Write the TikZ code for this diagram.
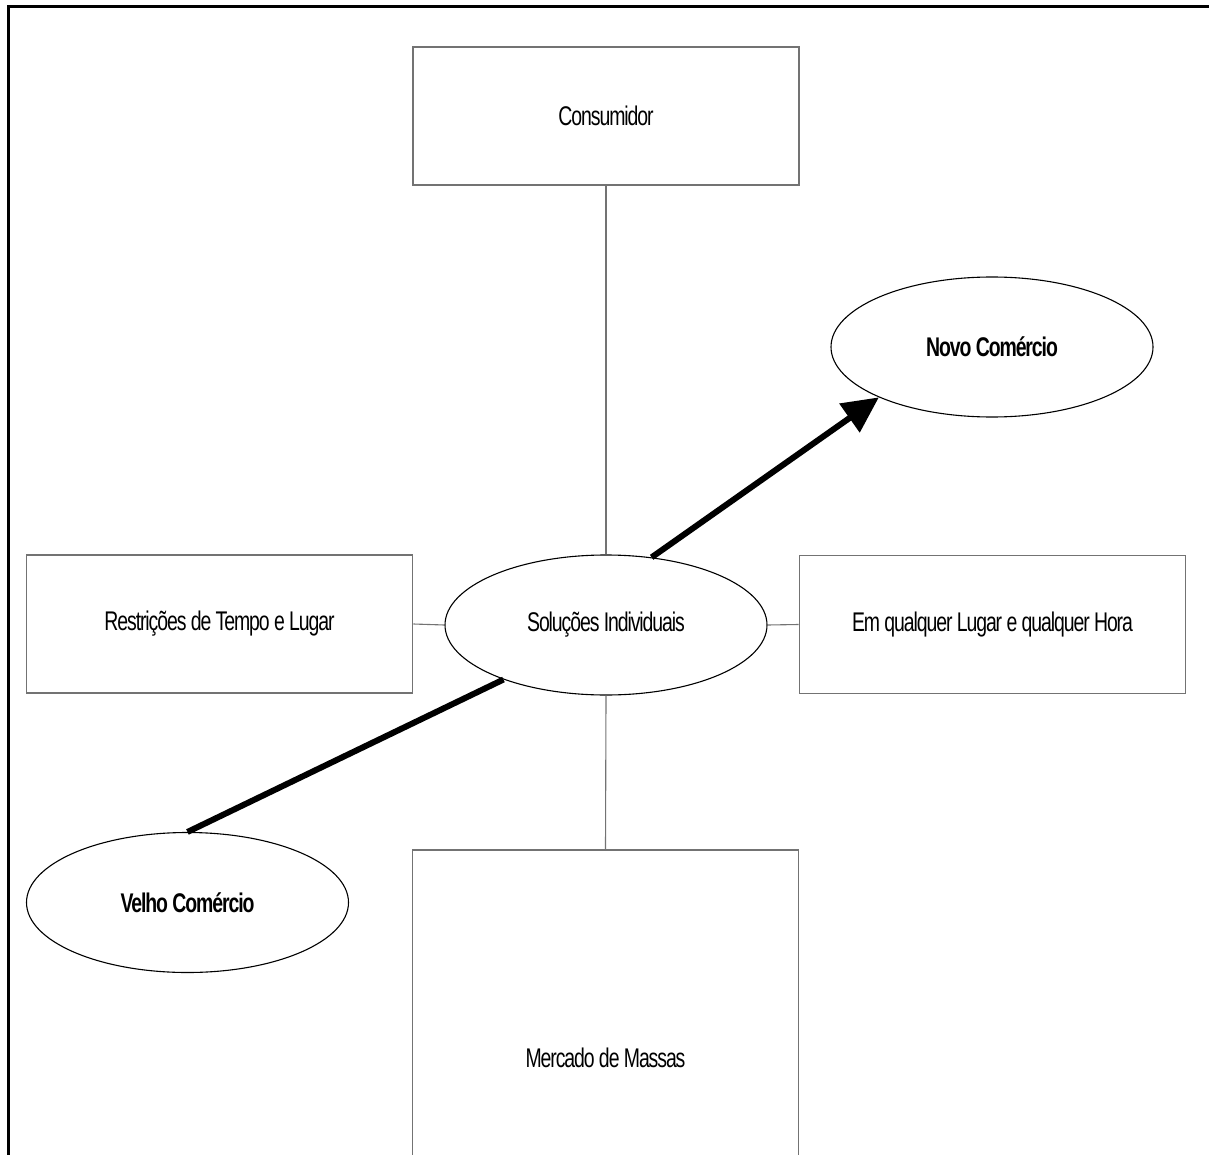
\documentclass[tikz,border=0pt]{standalone}
\usepackage{fontspec}
\newfontfamily\dgfont[FakeStretch=0.72,LetterSpace=-4]{Liberation Sans}
\usetikzlibrary{shapes.geometric,arrows.meta}
\begin{document}
\begin{tikzpicture}[x=1pt,y=-1pt,
  txt/.style={font=\dgfont\fontsize{27}{32}\selectfont, text=black},
  boxnode/.style={txt, draw=black!55, line width=1.8pt, rectangle, inner sep=0pt,
     minimum width=386pt, minimum height=138pt},
  ellnode/.style={txt, draw=black, line width=1.1pt, ellipse, inner sep=0pt,
     minimum width=322pt, minimum height=140pt},
  thinline/.style={draw=black!55, line width=1.1pt},
  heavy/.style={draw=black, line width=6pt}]
\useasboundingbox (0,0) rectangle (1209,1155);
% outer frame (top and left visible)
\draw[line width=3pt] (8,1155) -- (8,7) -- (1209,7);

\node[boxnode] (cons) at (606,116) {Consumidor};
\node[boxnode] (rest) at (219.5,624) {Restrições de Tempo e Lugar};
\node[boxnode] (qual) at (992.5,624.5) {Em qualquer Lugar e qualquer Hora};
\node[boxnode, minimum height=416pt] (merc) at (605.5,1058) {Mercado de Massas};

\node[ellnode] (sol) at (606,625) {Soluções Individuais};
\node[ellnode] (novo) at (992,347) {\bfseries Novo Comércio};
\node[ellnode] (velho) at (187.5,902.5) {\bfseries Velho Comércio};

\draw[thinline] (cons.south) -- (sol.north);
\draw[thinline] (sol.south) -- (merc.north);
\draw[thinline] (rest.east) -- (sol.west);
\draw[thinline] (sol.east) -- (qual.west);

\draw[heavy, -{Triangle[length=36pt,width=34pt]}] (sol.56) -- (novo.204);
\draw[heavy] (velho.90) -- (sol.208);
\end{tikzpicture}
\end{document}
